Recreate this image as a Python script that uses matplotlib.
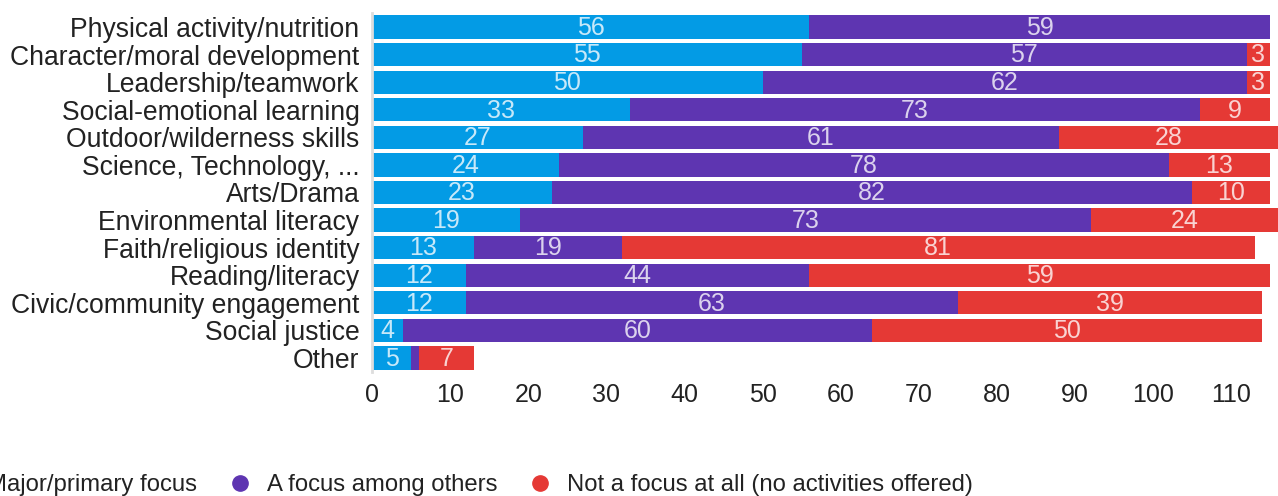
import matplotlib
matplotlib.use("Agg")
import matplotlib.pyplot as plt
from matplotlib.lines import Line2D
import numpy as np

plt.rcParams['font.family'] = ['Liberation Sans', 'DejaVu Sans']

categories = ["Physical activity/nutrition", "Character/moral development", "Leadership/teamwork",
              "Social-emotional learning", "Outdoor/wilderness skills", "Science, Technology, ...",
              "Arts/Drama", "Environmental literacy", "Faith/religious identity", "Reading/literacy",
              "Civic/community engagement", "Social justice", "Other"]
major = [56, 55, 50, 33, 27, 24, 23, 19, 13, 12, 12, 4, 5]
among = [59, 57, 62, 73, 61, 78, 82, 73, 19, 44, 63, 60, 1]
notfocus = [0, 3, 3, 9, 28, 13, 10, 24, 81, 59, 39, 50, 7]
series_names = ["Major/primary focus", "A focus among others", "Not a focus at all (no activities offered)"]
colors = ["#039BE5", "#5E35B1", "#E53935"]
xticks = [0, 10, 20, 30, 40, 50, 60, 70, 80, 90, 100, 110]

W, H = 1278, 496
fig = plt.figure(figsize=(W / 100, H / 100), dpi=100)
left = 372 / W
top = 1 - 13.2 / H
bottom = 1 - 371.8 / H
ax = fig.add_axes([left, bottom, 1 - left, top - bottom])

y = np.arange(len(categories))
lefts = np.zeros(len(categories))
for vals, col in zip([major, among, notfocus], colors):
    vals = np.array(vals, dtype=float)
    ax.barh(y, vals, left=lefts, height=0.84, color=col, linewidth=0)
    for yi, (l, v) in enumerate(zip(lefts, vals)):
        if v >= 3:
            ax.text(l + v / 2, yi + 0.03, f"{int(v)}", ha='center', va='center',
                    fontsize=18, color='white', alpha=0.78)
    lefts += vals

ax.set_xlim(0, 116.0)
ax.set_ylim(len(categories) - 0.5, -0.5)
ax.set_yticks(y)
ax.set_yticklabels(categories, fontsize=19.1, color='#222222')
ax.set_xticks(xticks)
ax.set_xticklabels([str(t) for t in xticks], fontsize=18, color='#222222')
ax.tick_params(axis='both', length=0)
ax.tick_params(axis='y', pad=9)
ax.tick_params(axis='x', pad=8)
for s in ['top', 'right', 'bottom']:
    ax.spines[s].set_visible(False)
ax.spines['left'].set_color('#dddddd')
ax.spines['left'].set_linewidth(2)

handles = [Line2D([], [], linestyle='none', marker='o', markersize=11,
                  markerfacecolor=c, markeredgecolor=c) for c in colors]
fig.legend(handles, series_names, loc='center left',
           bbox_to_anchor=(-52 / W, 1 - 485 / H), ncol=3, frameon=False,
           fontsize=17.2, handlelength=1.0, handletextpad=0.63, columnspacing=1.3,
           borderpad=0, borderaxespad=0, labelcolor='#222222')

fig.savefig("out.png", dpi=100)
